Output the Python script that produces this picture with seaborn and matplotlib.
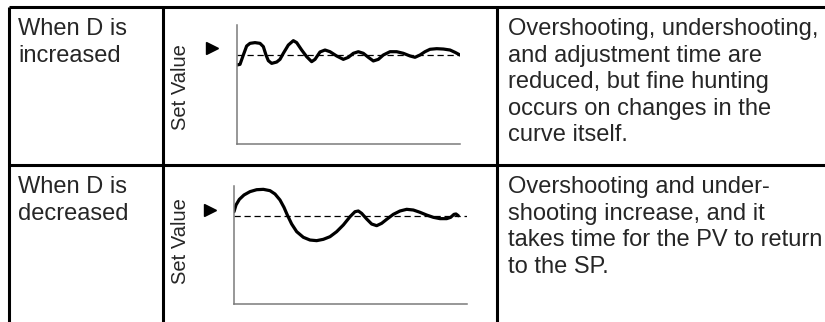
import numpy as np
import pandas as pd
import matplotlib
matplotlib.use('Agg')
import matplotlib.pyplot as plt
import seaborn as sns

# ── Data ──────────────────────────────────────────────────────────────────
# time in % of the plotted span, PV relative to set value (SP = 1.0)
t_inc = [0, 1.35, 2.84, 4.33, 5.83, 8.07, 10.31, 11.81, 13.0, 14.05, 15.55,
         17.8, 19.28, 20.78, 23.02, 25.26, 26.76, 29.0, 31.24, 33.48, 34.98,
         37.22, 39.46, 41.7, 44.69, 47.68, 49.93, 52.17, 54.41, 56.65, 58.89,
         61.14, 63.38, 65.62, 68.61, 71.6, 74.59, 77.58, 79.82, 82.06, 84.3,
         86.55, 89.54, 92.53, 95.52, 97.76, 100]
pv_inc = [0.888, 0.895, 1.000, 1.101, 1.131, 1.139, 1.131, 1.094, 1.000, 0.936,
          0.906, 0.921, 0.951, 1.019, 1.112, 1.161, 1.139, 1.056, 0.981, 0.925,
          0.951, 1.034, 1.056, 1.037, 0.989, 0.951, 0.974, 1.019, 1.037, 1.019,
          0.974, 0.933, 0.951, 1.000, 1.037, 1.037, 1.019, 0.989, 0.974, 1.000,
          1.037, 1.064, 1.071, 1.067, 1.056, 1.030, 1.000]

t_dec = [0, 0.86, 2.29, 4.29, 6.87, 9.73, 12.59, 15.45, 17.6, 19.74, 21.46,
         22.89, 24.75, 26.9, 29.76, 32.62, 35.48, 38.34, 41.2, 44.06, 46.92,
         49.79, 51.93, 53.36, 54.79, 56.94, 59.08, 61.23, 63.38, 65.52, 68.38,
         71.24, 74.11, 76.97, 79.83, 82.69, 85.55, 88.41, 91.27, 92.99, 94.42,
         95.28, 96.28]
pv_dec = [1.049, 1.125, 1.189, 1.239, 1.277, 1.299, 1.303, 1.288, 1.250, 1.182,
          1.098, 1.011, 0.909, 0.822, 0.758, 0.727, 0.720, 0.735, 0.765, 0.822,
          0.898, 0.992, 1.049, 1.057, 1.030, 0.966, 0.909, 0.890, 0.917, 0.962,
          1.019, 1.057, 1.076, 1.068, 1.042, 1.011, 0.985, 0.970, 0.970, 0.985,
          1.019, 1.023, 1.003]

set_value = 1.0
row_labels = ["When D is\nincreased", "When D is\ndecreased"]
row_notes = [
    "Overshooting, undershooting,\nand adjustment time are\nreduced, but fine hunting\n"
    "occurs on changes in the\ncurve itself.",
    "Overshooting and under-\nshooting increase, and it\ntakes time for the PV to return\n"
    "to the SP.",
]
y_label = "Set Value"

# ── Style ─────────────────────────────────────────────────────────────────
sns.set_style("white")
plt.rcParams['font.family'] = ['Liberation Sans', 'DejaVu Sans']

W, H = 825, 322
fig = plt.figure(figsize=(W / 100, H / 100), dpi=100)

# background axes in pixel units for the table grid and text
bg = fig.add_axes([0, 0, 1, 1])
bg.set_xlim(0, W)
bg.set_ylim(H, 0)
bg.axis('off')

grid_kw = dict(color='black', lw=2.2, solid_capstyle='butt')
bg.plot([9, W], [7, 7], **grid_kw)
bg.plot([9, W], [165, 165], **grid_kw)
for x in (9, 163, 497):
    bg.plot([x, x], [7, H], **grid_kw)

row_top = [18, 176]
for i in range(2):
    bg.text(18, row_top[i], row_labels[i], fontsize=17, va='top', ha='left',
            linespacing=1.27)
    bg.text(508, row_top[i], row_notes[i], fontsize=17, va='top', ha='left',
            linespacing=1.27)
bg.text(180, 87, y_label, fontsize=14.5, rotation=90, va='center', ha='center')
bg.text(180, 241, y_label, fontsize=14.5, rotation=90, va='center', ha='center')

# ── Response charts ───────────────────────────────────────────────────────
def px_box(x0, x1, y0, y1):
    return [x0 / W, 1 - y1 / H, (x1 - x0) / W, (y1 - y0) / H]

charts = [
    (px_box(237, 460, 25, 144), t_inc, pv_inc, 1.337, -11.2, 1.079),
    (px_box(234, 467, 186, 304), t_dec, pv_dec, 1.341, -10.3, 1.068),
]

for box, t, pv, ytop, ax_t, ax_v in charts:
    ax = fig.add_axes(box)
    df = pd.DataFrame({"t": t, "pv": pv})
    sns.lineplot(data=df, x="t", y="pv", ax=ax, color='black', lw=2.3,
                 sort=False, estimator=None)
    for line in ax.get_lines():
        line.set_solid_joinstyle('round')
        line.set_solid_capstyle('round')
    ax.axhline(set_value, color='black', lw=0.9, dashes=(5, 3))
    ax.plot([ax_t], [ax_v], marker='>', color='black', ms=8, clip_on=False)
    ax.set_xlim(0, 100)
    ax.set_ylim(0, ytop)
    ax.set_xticks([])
    ax.set_yticks([])
    ax.set_xlabel("")
    ax.set_ylabel("")
    for s in ('top', 'right'):
        ax.spines[s].set_visible(False)
    for s in ('left', 'bottom'):
        ax.spines[s].set_color('#7a7a7a')
        ax.spines[s].set_linewidth(1.1)
    ax.patch.set_alpha(0)

fig.savefig("out.png", dpi=100)
